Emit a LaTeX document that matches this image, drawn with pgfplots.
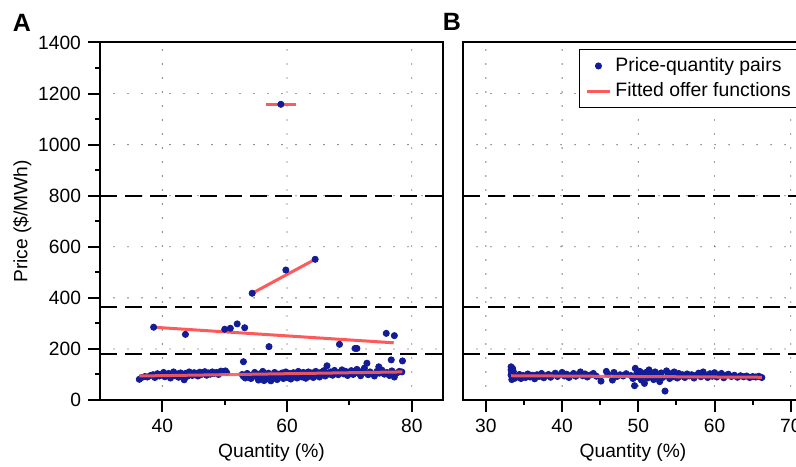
\documentclass[border=0pt]{standalone}
\usepackage{pgfplots}
\pgfplotsset{compat=1.18}
\usepackage{fontspec}
\setmainfont{Liberation Sans}
\definecolor{pts}{RGB}{18,28,150}
\definecolor{fit}{RGB}{255,90,90}

\pgfplotsset{
  panel/.style={
    scale only axis, anchor=south west, clip marker paths=true,
    height=178.75pt, ymin=0, ymax=1400,
    axis line style={line width=1pt},
    every tick/.style={black, line width=1pt},
    major tick length=6pt, minor tick length=2.5pt,
    tick align=outside, tick pos=left,
    xmajorgrids, ymajorgrids,
    grid style={black!75, line width=0.65pt, dash pattern=on 0pt off 7pt, line cap=round},
    tick label style={font=\fontsize{9.6}{11}\selectfont},
    label style={font=\fontsize{9.6}{11}\selectfont},
    /pgf/number format/assume math mode=true,
    /pgf/number format/1000 sep={},
    xlabel={Quantity (\%)},
    xlabel style={at={(axis description cs:0.5,-0.148)}, anchor=center},
  },
  cap/.style={black, line width=0.8pt, dash pattern=on 8.5pt off 4pt},
  fitline/.style={fit, line width=1.5pt},
  pairs/.style={only marks, mark=*, mark size=1.55pt, pts, mark options={draw=pts, fill=pts}},
}

\begin{document}
\begin{tikzpicture}[font=\fontsize{9.6}{11.5}\selectfont]

\begin{axis}[panel, at={(50pt,33pt)}, width=171.5pt,
  xmin=30, xmax=85,
  xtick={40,60,80}, minor xtick={50,70},
  ytick={0,200,...,1400}, minor ytick={100,300,...,1300},
  ylabel={Price (\$/MWh)},
  ylabel style={at={(axis description cs:-0.227,0.5)}, anchor=center}]
\addplot[cap] coordinates {(30,180) (85,180)};
\addplot[cap] coordinates {(30,365) (85,365)};
\addplot[cap] coordinates {(30,800) (85,800)};
\addplot[fitline] coordinates {(56.6,1158) (61.5,1158)};
\addplot[fitline] coordinates {(54.4,418) (64.5,551)};
\addplot[fitline] coordinates {(38.6,285) (77.1,224)};
\addplot[pairs] table {
x y
36.3 81
36.7 88
37.2 92
37.6 90
38.1 96
38.5 99
38.8 88
39.2 103
39.5 94
39.9 100
40.2 108
40.4 91
40.7 97
41.0 104
41.3 86
41.5 99
41.8 110
42.1 95
42.4 102
42.6 89
42.9 106
43.2 98
43.5 79
43.7 104
44.0 93
44.3 110
44.5 100
44.8 96
45.1 107
45.4 102
45.7 94
46.0 109
46.2 99
46.5 104
46.8 111
47.1 97
47.4 106
47.7 101
48.0 110
48.3 104
48.7 108
49.0 100
49.4 113
49.8 111
50.1 114
50.3 108
52.8 100
53.0 92
53.3 86
53.6 104
53.9 95
54.2 84
54.5 99
54.8 108
55.1 91
55.4 78
55.6 102
55.9 88
56.1 112
56.3 76
56.5 95
56.8 83
57.0 105
57.2 90
57.4 75
57.6 98
57.8 86
58.0 108
58.2 93
58.4 80
58.6 101
58.8 89
59.0 97
59.2 106
59.4 84
59.6 94
59.8 110
60.0 88
60.2 99
60.4 104
60.6 82
60.8 95
61.0 107
61.2 91
61.4 100
61.6 86
61.8 112
62.0 97
62.2 104
62.4 90
62.6 108
62.8 96
63.0 85
63.2 102
63.4 110
63.6 93
63.8 99
64.0 106
64.2 88
64.4 101
64.6 112
64.8 95
65.0 104
65.2 90
65.4 108
65.6 99
65.9 115
66.1 94
66.4 106
66.7 101
67.0 110
67.3 97
67.6 116
67.9 104
68.2 99
68.5 109
68.8 118
69.1 102
69.4 112
69.7 96
70.0 107
70.3 115
70.6 100
70.9 111
71.2 120
71.5 104
71.8 95
72.1 113
72.4 125
72.7 106
73.0 99
73.3 110
73.6 103
74.0 94
74.4 112
74.8 105
75.2 117
75.6 101
76.0 108
76.4 96
76.8 114
77.2 90
77.6 106
78.0 112
78.4 110
53.0 150
66.4 134
72.8 144
74.7 130
76.7 157
78.5 153
38.6 285
43.7 257
50.0 277
50.9 281
52.0 298
53.2 283
57.1 209
68.4 218
70.9 202
71.2 202
75.9 261
77.2 252
54.4 418
59.8 509
64.5 551
59.0 1158
};
\addplot[fitline, opacity=0.9] coordinates {(36.3,94) (78.5,110)};
\end{axis}

\begin{axis}[panel, at={(231.5pt,33pt)}, width=170pt,
  xmin=27, xmax=71.6,
  xtick={30,40,...,70}, minor xtick={35,45,55,65},
  ytick={0,200,...,1400}, yticklabels={}, ymajorticks=false,
  legend cell align=left,
  legend style={at={(axis description cs:0.341,0.982)}, anchor=north west,
    draw=black, line width=0.5pt, fill=white,
    font=\fontsize{9.7}{11}\selectfont, inner xsep=3pt, inner ysep=2pt}]
\addplot[cap, forget plot] coordinates {(27,180) (71.6,180)};
\addplot[cap, forget plot] coordinates {(27,365) (71.6,365)};
\addplot[cap, forget plot] coordinates {(27,800) (71.6,800)};
\addplot[pairs, legend image code/.code={\fill[pts] (5.75pt,0pt) circle (1.5pt);}] table {
x y
33.3 130
33.3 118
33.4 108
33.3 98
33.5 88
33.4 80
33.6 112
33.7 94
33.5 124
33.8 85
34.1 92
34.4 100
34.6 84
34.9 96
35.2 88
35.5 102
35.8 90
36.1 97
36.4 83
36.7 99
37.0 92
37.3 104
37.6 87
37.9 95
38.2 100
38.5 89
38.8 97
39.1 105
39.4 92
39.7 99
40.0 108
40.3 94
40.6 101
40.9 88
41.2 97
41.5 104
41.8 93
42.1 100
42.4 110
42.7 95
43.0 102
43.3 90
43.7 98
44.1 104
44.5 93
45.1 74
45.8 112
46.6 78
46.0 101
46.8 108
47.2 92
47.6 99
48.0 94
48.4 103
49.0 96
49.3 84
49.5 56
49.6 124
49.8 105
50.0 90
50.2 112
50.4 78
50.6 98
50.8 65
51.0 108
51.2 86
51.4 118
51.6 94
51.8 102
52.0 80
52.2 110
52.4 92
52.6 100
52.8 72
53.0 106
53.2 88
53.5 35
53.7 114
53.9 95
54.1 84
54.3 103
54.5 91
54.7 110
54.9 97
55.1 86
55.3 104
55.5 93
55.8 99
56.1 88
56.4 102
56.7 94
57.0 99
57.3 86
57.6 97
57.9 105
58.2 91
58.5 110
58.8 96
59.1 88
59.4 103
59.7 93
60.0 107
60.3 90
60.6 99
60.9 104
61.2 87
61.5 96
61.8 101
62.2 92
62.6 97
63.0 89
63.4 95
63.8 91
64.2 94
64.6 88
65.0 92
65.4 90
65.8 93
66.2 88
};
\addlegendentry{Price-quantity pairs}
\addplot[fitline, opacity=0.9, forget plot] coordinates {(33.3,95) (66.2,89)};
\addlegendimage{fit, line width=1.5pt, legend image code/.code={\draw[fit, line width=1.5pt] (0pt,0pt) -- (11.5pt,0pt);}}
\addlegendentry{Fitted offer functions}
\end{axis}

\node[font=\bfseries\fontsize{12.5}{14}\selectfont] at (11pt,221.5pt) {A};
\node[font=\bfseries\fontsize{12.5}{14}\selectfont] at (226pt,222pt) {B};

\pgfresetboundingbox
\path (0pt,0pt) rectangle (398pt,233pt);
\end{tikzpicture}
\end{document}
